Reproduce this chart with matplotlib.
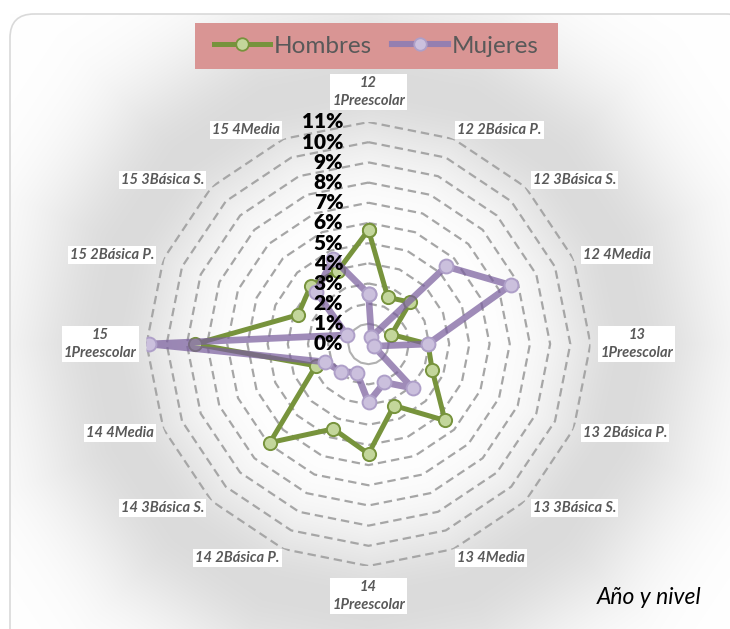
import numpy as np
import matplotlib
matplotlib.use('Agg')
import matplotlib.pyplot as plt
from matplotlib.patches import FancyBboxPatch, Rectangle
from matplotlib.lines import Line2D

# ---------------- data ----------------
categories = ['12\n1Preescolar', '12 2Básica P.', '12 3Básica S.', '12 4Media',
              '13\n1Preescolar', '13 2Básica P.', '13 3Básica S.', '13 4Media',
              '14\n1Preescolar', '14 2Básica P.', '14 3Básica S.', '14 4Media',
              '15\n1Preescolar', '15 2Básica P.', '15 3Básica S.', '15 4Media']
hombres = [5.65, 2.50, 2.93, 1.23, 2.95, 3.42, 5.36, 3.30,
           5.44, 4.55, 6.91, 2.82, 8.60, 3.78, 4.06, 3.94]
mujeres = [2.48, 0.38, 5.44, 7.62, 2.95, 0.28, 3.09, 2.06,
           2.89, 1.53, 1.93, 2.32, 10.90, 1.17, 3.67, 4.58]
ticks = list(range(0, 12))
tick_labels = [f'{t}%' for t in ticks]
series_names = ['Hombres', 'Mujeres']
axis_title = 'Año y nivel'

plt.rcParams['font.family'] = ['Lato', 'DejaVu Sans']

W, H = 730, 629
fig = plt.figure(figsize=(W / 100, H / 100), dpi=100)
fig.patch.set_facecolor('white')

cx, cy, R = 368.5, 344.0, 222.0

# ---------------- background (border + glow) ----------------
bg = fig.add_axes([0, 0, 1, 1], zorder=-5)
bg.set_xlim(0, W)
bg.set_ylim(H, 0)
bg.axis('off')
yy, xx = np.mgrid[0:H, 0:W] + 0.5
dx = xx - cx
dy = cy - yy
d = np.hypot(dx, dy)
phi = np.degrees(np.arctan2(dx, dy)) % 360
delta = np.radians((phi % 22.5) - 11.25)
u = d * np.cos(delta) / np.cos(np.radians(11.25)) / R
peak = 1.18
sig = np.where(u < peak, 0.34, 0.42)
g = 255 - 36 * np.exp(-((u - peak) / sig) ** 2)
img = np.dstack([g, g, g]) / 255.0
bg.imshow(img, extent=(0, W, H, 0), aspect='auto', interpolation='bilinear', zorder=0)
border = FancyBboxPatch((10, 14), 740, 660, boxstyle='round,pad=0,rounding_size=24',
                        facecolor='none', edgecolor='#d9d9d9', lw=1.2, zorder=2)
bg.add_patch(border)
bg.add_patch(Rectangle((0, 0), 10, H, facecolor='white', edgecolor='none', zorder=1))
bg.add_patch(Rectangle((0, 0), W, 14, facecolor='white', edgecolor='none', zorder=1))

# ---------------- radar ----------------
ax = fig.add_axes([(cx - R) / W, (H - cy - R) / H, 2 * R / W, 2 * R / H], projection='polar')
ax.set_theta_zero_location('N')
ax.set_theta_direction(-1)
ax.patch.set_alpha(0)
ax.grid(False)
ax.spines['polar'].set_visible(False)
ax.set_xticks([])
ax.set_yticks([])
ax.set_ylim(0, 11)

n = len(categories)
theta = np.arange(n) * 2 * np.pi / n
theta_c = np.append(theta, theta[0])

for t in ticks[1:]:
    if t == 1:
        ax.plot(theta_c, [t] * (n + 1), color='#b0b0b0', lw=1.5, zorder=1)
    else:
        ax.plot(theta_c, [t] * (n + 1), color='#a6a6a6', lw=1.6,
                ls=(0, (3.8, 2.2)), zorder=1)

green = '#77933C'
ax.plot(theta_c, hombres + hombres[:1], color=green, lw=3.6, marker='o', ms=9.5,
        mfc='#C3D69B', mec=green, mew=1.4, zorder=3)
ax.plot(theta_c, mujeres + mujeres[:1], color='#7A5F9E', lw=4.8, alpha=0.72,
        solid_joinstyle='round', zorder=4)
ax.plot(theta_c, mujeres + mujeres[:1], ls='none', marker='o', ms=10,
        mfc='#CBC0DD', mec='#AE9FC8', mew=1.4, zorder=4.5)

for t, lab in zip(ticks, tick_labels):
    ax.annotate(lab, xy=(0, t), xytext=(-25, 0), textcoords='offset pixels',
                ha='right', va='center', fontsize=15, fontweight='heavy',
                color='black', zorder=6, annotation_clip=False)

for i, lab in enumerate(categories):
    th = theta[i]
    s, c = np.sin(th), np.cos(th)
    if abs(s) < 1e-6:
        ha = 'center'
        va = 'bottom' if c > 0 else 'top'
        off = (0, 14 if c > 0 else -14)
    else:
        ha = 'left' if s > 0 else 'right'
        va = 'center'
        off = (10 * s, 10 * c)
    ax.annotate(lab, xy=(th, 11), xytext=off, textcoords='offset pixels',
                ha=ha, va=va, fontsize=10.5, fontstyle='italic', fontweight='bold',
                color='#595959', linespacing=1.35, multialignment='center',
                bbox=dict(facecolor='white', edgecolor='none', pad=1.5),
                zorder=6, annotation_clip=False)

# ---------------- legend ----------------
fig.patches.append(Rectangle((195 / W, 1 - 69 / H), 363 / W, 46 / H,
                             transform=fig.transFigure, facecolor='#D99594',
                             edgecolor='none', zorder=1))
handles = [Line2D([], [], color=green, lw=3.6, marker='o', ms=9,
                  mfc='#C3D69B', mec=green, mew=1.3),
           Line2D([], [], color='#957FB0', lw=4.4, marker='o', ms=9,
                  mfc='#CBC0DD', mec='#AE9FC8', mew=1.3)]
leg = fig.legend(handles, series_names, loc='center left',
                 bbox_to_anchor=(214 / W, 1 - 46 / H), ncol=2, frameon=False,
                 fontsize=17.5, labelcolor='#595959', handlelength=2.3,
                 handletextpad=0.15, columnspacing=0.85, borderpad=0, borderaxespad=0)

fig.text(649 / W, 1 - 597 / H, axis_title, ha='center', va='center',
         fontsize=16.5, fontstyle='italic', color='black')

fig.savefig('out.png', dpi=100)
